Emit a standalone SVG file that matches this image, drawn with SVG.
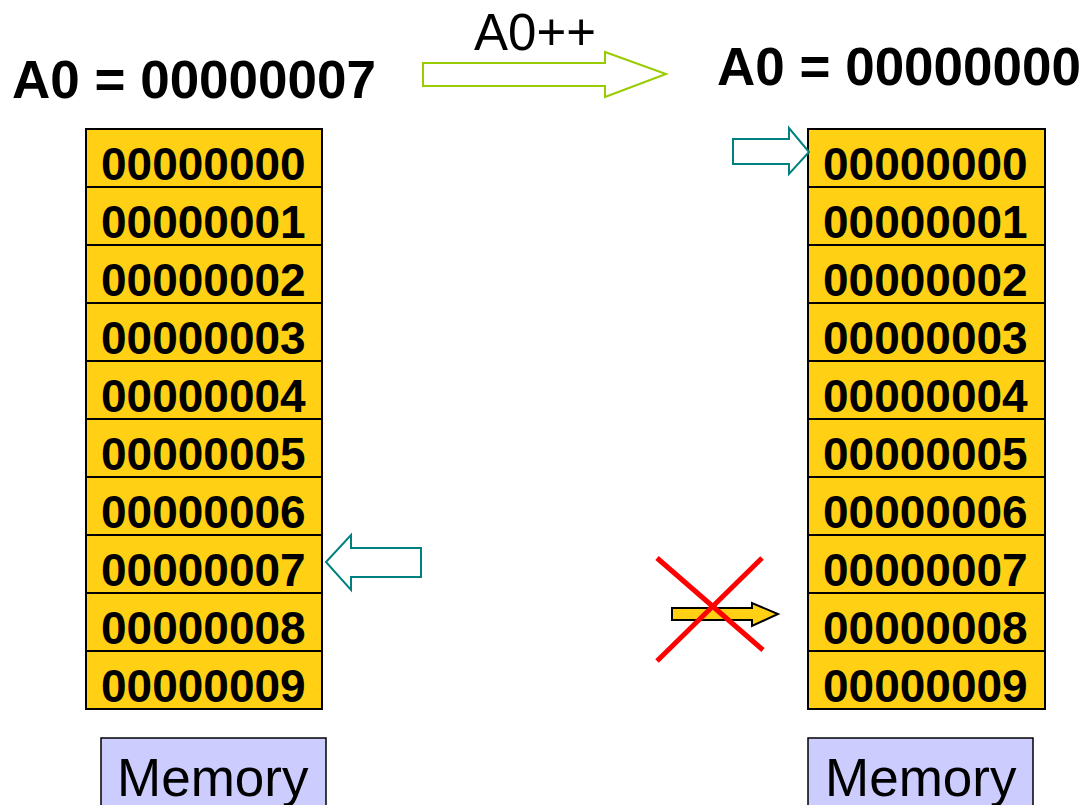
<svg xmlns="http://www.w3.org/2000/svg" width="1087" height="805" viewBox="0 0 1087 805">
<style>
.cell{fill:#FFD014;stroke:#000;stroke-width:2}
.ct{font-family:"Liberation Sans",Arial,sans-serif;font-weight:bold;font-size:46px;fill:#000}
.hd{font-family:"Liberation Sans",Arial,sans-serif;font-weight:bold;font-size:53px;fill:#000}
.mem{fill:#CCCCFF;stroke:#000;stroke-width:1.5}
.mt{font-family:"Liberation Sans",Arial,sans-serif;font-size:53px;fill:#000}
.teal{fill:#fff;stroke:#008080;stroke-width:2}
</style>
<rect width="1087" height="805" fill="#fff"/>
<g id="heading-left"><text class="hd" x="12" y="98">A0 = 00000007</text></g>
<g id="heading-right"><text class="hd" x="717" y="85">A0 = 00000000</text></g>
<g id="memory-left">
<rect class="cell" x="86" y="129" width="236" height="58"/>
<rect class="cell" x="86" y="187" width="236" height="58"/>
<rect class="cell" x="86" y="245" width="236" height="58"/>
<rect class="cell" x="86" y="303" width="236" height="58"/>
<rect class="cell" x="86" y="361" width="236" height="58"/>
<rect class="cell" x="86" y="419" width="236" height="58"/>
<rect class="cell" x="86" y="477" width="236" height="58"/>
<rect class="cell" x="86" y="535" width="236" height="58"/>
<rect class="cell" x="86" y="593" width="236" height="58"/>
<rect class="cell" x="86" y="651" width="236" height="58"/>
<text class="ct" x="101" y="180">00000000</text>
<text class="ct" x="101" y="238">00000001</text>
<text class="ct" x="101" y="296">00000002</text>
<text class="ct" x="101" y="354">00000003</text>
<text class="ct" x="101" y="412">00000004</text>
<text class="ct" x="101" y="470">00000005</text>
<text class="ct" x="101" y="528">00000006</text>
<text class="ct" x="101" y="586">00000007</text>
<text class="ct" x="101" y="644">00000008</text>
<text class="ct" x="101" y="702">00000009</text>
</g>
<g id="memory-right">
<rect class="cell" x="808" y="129" width="237" height="58"/>
<rect class="cell" x="808" y="187" width="237" height="58"/>
<rect class="cell" x="808" y="245" width="237" height="58"/>
<rect class="cell" x="808" y="303" width="237" height="58"/>
<rect class="cell" x="808" y="361" width="237" height="58"/>
<rect class="cell" x="808" y="419" width="237" height="58"/>
<rect class="cell" x="808" y="477" width="237" height="58"/>
<rect class="cell" x="808" y="535" width="237" height="58"/>
<rect class="cell" x="808" y="593" width="237" height="58"/>
<rect class="cell" x="808" y="651" width="237" height="58"/>
<text class="ct" x="823" y="180">00000000</text>
<text class="ct" x="823" y="238">00000001</text>
<text class="ct" x="823" y="296">00000002</text>
<text class="ct" x="823" y="354">00000003</text>
<text class="ct" x="823" y="412">00000004</text>
<text class="ct" x="823" y="470">00000005</text>
<text class="ct" x="823" y="528">00000006</text>
<text class="ct" x="823" y="586">00000007</text>
<text class="ct" x="823" y="644">00000008</text>
<text class="ct" x="823" y="702">00000009</text>
</g>
<g id="label-left"><rect class="mem" x="101" y="738" width="225" height="80"/><text class="mt" x="117" y="796">Memory</text></g>
<g id="label-right"><rect class="mem" x="808" y="738" width="225" height="80"/><text class="mt" x="825" y="796">Memory</text></g>
<g id="connectors">
<g id="op-arrow">
<polygon points="423,63 605,63 605,52 666,74 605,97 605,86 423,86" fill="#fff" stroke="#99CC00" stroke-width="2"/>
<text x="535" y="50" text-anchor="middle" font-family="Liberation Sans, Arial, sans-serif" font-size="51" fill="#000">A0++</text>
</g>
<polygon class="teal" points="421,548 351,548 351,535 326,562 351,590 351,577 421,577"/>
<polygon class="teal" points="733,139 789,139 789,128 809,152 789,174 789,164 733,164"/>
<polygon points="672,608 752,608 752,603 778,614 752,626 752,620 672,620" fill="#FFD014" stroke="#000" stroke-width="2"/>
<line x1="657" y1="558" x2="763" y2="650" stroke="#FF0000" stroke-width="5"/>
<line x1="762" y1="558" x2="657" y2="661" stroke="#FF0000" stroke-width="5"/>
</g>
</svg>
